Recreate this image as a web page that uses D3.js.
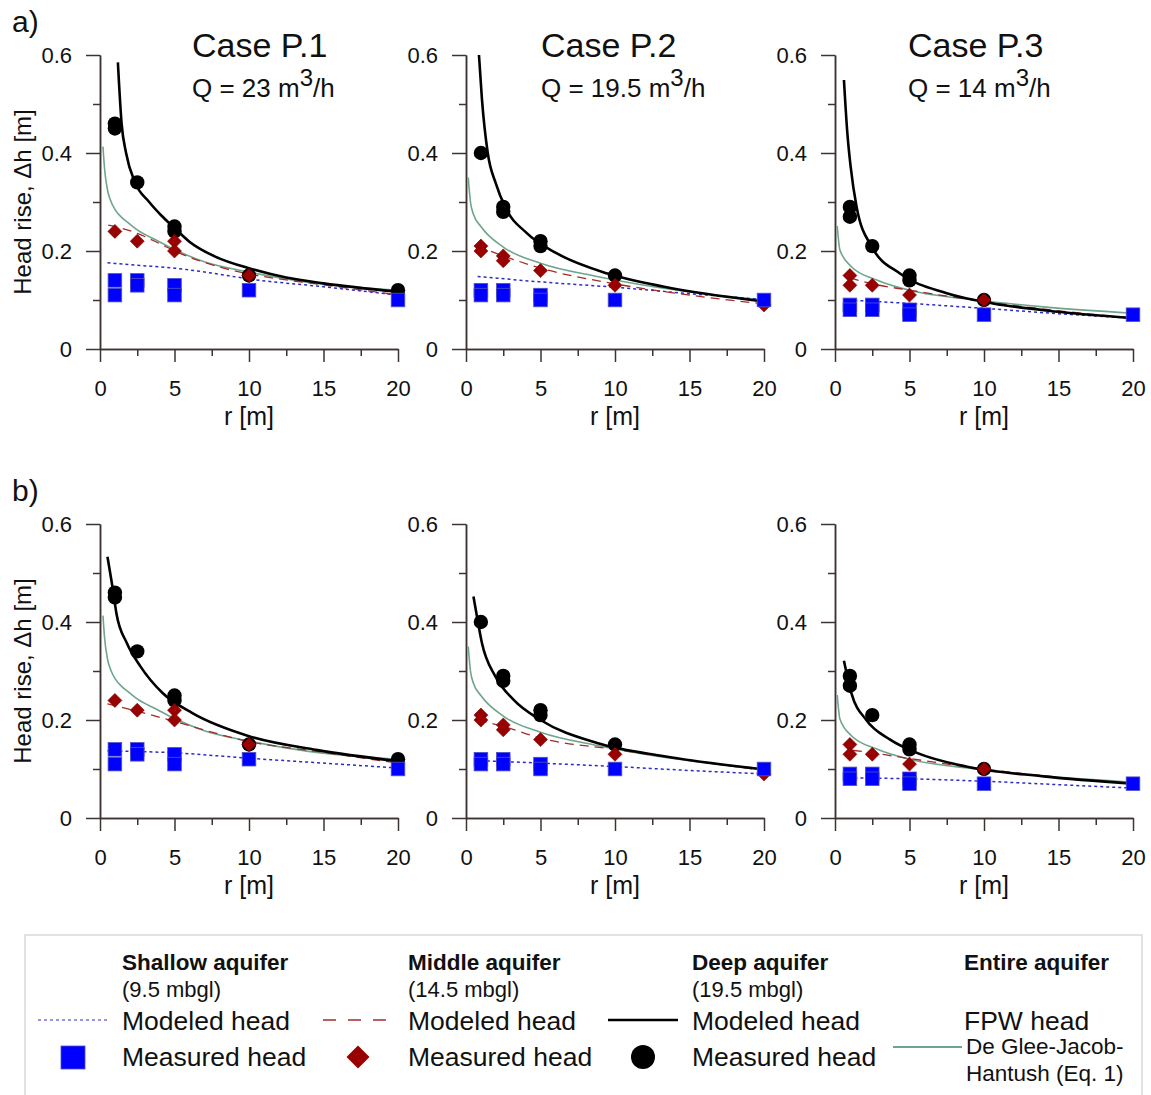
<!DOCTYPE html>
<html><head><meta charset="utf-8">
<script src="https://cdn.jsdelivr.net/npm/d3@7"></script>
<style>
body{margin:0;background:#fff;}
svg{display:block;font-family:Arial,"Liberation Sans",Helvetica,sans-serif;}
</style></head><body>
<svg id="c" width="1151" height="1095"></svg>
<script>
// ---------------- DATA ----------------
const cases = ["Case P.1", "Case P.2", "Case P.3"];
const flows = ["23", "19.5", "14"];
const rowLabels = ["a)", "b)"];
const xTicks = [0, 5, 10, 15, 20];
const xMinor = [2.5, 7.5, 12.5, 17.5];
const yTicks = [0, 0.2, 0.4, 0.6];
const yMinor = [0.1, 0.3, 0.5];

// measured heads [r (m), head rise (m)] per case
const shallowMeasured = [
  [[1,0.14],[1,0.11],[2.5,0.14],[2.5,0.13],[5,0.13],[5,0.11],[10,0.12],[20,0.10]],
  [[1,0.12],[1,0.11],[2.5,0.12],[2.5,0.11],[5,0.11],[5,0.10],[10,0.10],[20,0.10]],
  [[1,0.09],[1,0.08],[2.5,0.09],[2.5,0.08],[5,0.08],[5,0.07],[10,0.07],[20,0.07]]
];
const middleMeasured = [
  [[1,0.24],[2.5,0.22],[5,0.22],[5,0.20],[10,0.15]],
  [[1,0.21],[1,0.20],[2.5,0.19],[2.5,0.18],[5,0.16],[10,0.13],[20,0.09]],
  [[1,0.15],[1,0.13],[2.5,0.13],[5,0.11],[10,0.10]]
];
const deepMeasured = [
  [[1,0.46],[1,0.45],[2.5,0.34],[5,0.25],[5,0.24],[10,0.15],[20,0.12]],
  [[1,0.40],[2.5,0.29],[2.5,0.28],[5,0.22],[5,0.21],[10,0.15]],
  [[1,0.29],[1,0.27],[2.5,0.21],[5,0.15],[5,0.14],[10,0.10]]
];

// FPW head, De Glee-Jacob-Hantush (same in both rows)
const fpwModeled = [
  [[0.2,0.413],[0.3,0.37],[0.5,0.325],[0.75,0.3],[1,0.285],[1.5,0.267],[2,0.255],[2.5,0.243],[3.8,0.222],[5,0.203],[7,0.178],[10,0.157],[14,0.136],[20,0.12]],
  [[0.15,0.35],[0.3,0.30],[0.5,0.275],[1,0.25],[2.5,0.208],[5,0.175],[8.8,0.148],[12.6,0.127],[20,0.10]],
  [[0.15,0.251],[0.33,0.202],[1.1,0.168],[2.8,0.141],[5,0.12],[9.5,0.10],[14,0.086],[20,0.073]]
];

// row a) modeled heads
const deepModeledA = [
  [[1.2,0.585],[1.45,0.46],[1.75,0.40],[2.35,0.34],[3.3,0.30],[4.1,0.273],[5,0.247],[6,0.219],[8,0.185],[10,0.165],[12.5,0.146],[15,0.134],[20,0.117]],
  [[0.87,0.60],[1.07,0.51],[1.46,0.40],[2,0.338],[2.64,0.289],[4.1,0.236],[6.1,0.195],[9.5,0.154],[13.3,0.127],[20,0.097]],
  [[0.6,0.549],[0.83,0.44],[1.05,0.372],[1.45,0.29],[2.46,0.209],[4.36,0.154],[7.5,0.114],[10.6,0.093],[15,0.076],[20,0.063]]
];
const middleModeledA = [
  [[0.55,0.253],[1,0.25],[2.5,0.236],[4,0.215],[5,0.2],[7.5,0.172],[10,0.153],[12.5,0.141],[16,0.127],[20,0.11]],
  [[0.74,0.21],[2.5,0.19],[5,0.165],[10,0.133],[15,0.11],[20,0.092]],
  [[1,0.145],[2.5,0.133],[5,0.12],[10,0.097],[15,0.078],[20,0.063]]
];
const shallowModeledA = [
  [[0.5,0.176],[2.5,0.171],[5,0.165],[7.5,0.155],[10,0.143],[15,0.127],[20,0.11]],
  [[0.78,0.148],[5,0.137],[10,0.126],[15,0.113],[20,0.101]],
  [[0.9,0.10],[5,0.093],[10,0.083],[15,0.072],[20,0.063]]
];

// row b) modeled heads
const deepModeledB = [
  [[0.5,0.533],[0.9,0.459],[1.1,0.418],[1.8,0.357],[2.7,0.31],[4.2,0.255],[6.2,0.214],[10,0.167],[14.5,0.139],[20,0.116]],
  [[0.5,0.452],[0.8,0.40],[1.07,0.357],[1.97,0.289],[3.2,0.241],[5,0.2],[8.8,0.153],[13.3,0.126],[20,0.099]],
  [[0.6,0.321],[1.1,0.255],[2.1,0.2],[3.7,0.16],[5.5,0.133],[8.8,0.105],[14,0.085],[20,0.07]]
];
const middleModeledB = [
  [[0.5,0.233],[2.5,0.218],[5,0.197],[10,0.156],[15,0.134],[20,0.112]],
  [[0.8,0.2],[2.5,0.187],[5,0.163],[10,0.14],[15,0.118],[20,0.097]],
  [[1.2,0.138],[2.5,0.133],[4,0.126],[10,0.1],[15,0.083],[20,0.07]]
];
const shallowModeledB = [
  [[0.5,0.137],[5,0.133],[10,0.122],[15,0.112],[20,0.102]],
  [[1,0.117],[5,0.112],[10,0.105],[15,0.097],[20,0.09]],
  [[0.9,0.082],[5,0.08],[10,0.075],[15,0.068],[20,0.061]]
];

const legendGroups = [
  {title:"Shallow aquifer", sub:"(9.5 mbgl)", line:"Modeled head", marker:"Measured head"},
  {title:"Middle aquifer", sub:"(14.5 mbgl)", line:"Modeled head", marker:"Measured head"},
  {title:"Deep aquifer", sub:"(19.5 mbgl)", line:"Modeled head", marker:"Measured head"},
  {title:"Entire aquifer", sub:"", line:"FPW head", marker:""}
];
const fpwNote = ["De Glee-Jacob-", "Hantush (Eq. 1)"];

// ---------------- LAYOUT / STYLE ----------------
const svg = d3.select("#c");
const panelX = [100, 466, 835];
const panelW = 298;
const rowY = [349, 818];
const panelH = 294;
const axisColor = "#3d3333";
const styles = {
  fpw:{stroke:"#6fa58c", width:1.6, dash:null},
  shallow:{stroke:"#2b2bc8", width:1.5, dash:"3,3"},
  middle:{stroke:"#a52a2a", width:1.3, dash:"9,6"},
  deep:{stroke:"#000", width:2.6, dash:null}
};

function drawLine(g, data, x, y, st){
  const line = d3.line().x(d=>x(d[0])).y(d=>y(d[1])).curve(d3.curveMonotoneX);
  g.append("path").attr("d", line(data)).attr("fill","none")
    .attr("stroke", st.stroke).attr("stroke-width", st.width)
    .attr("stroke-dasharray", st.dash);
}

rowLabels.forEach((lab, i) => {
  svg.append("text").attr("x", 12).attr("y", rowY[i] - 317).text(lab)
    .attr("font-size", 30).attr("fill", "#111");

  cases.forEach((cs, j) => {
    const x = d3.scaleLinear().domain([0,20]).range([panelX[j], panelX[j]+panelW]);
    const y = d3.scaleLinear().domain([0,0.6]).range([rowY[i], rowY[i]-panelH]);
    const g = svg.append("g");

    const styleAxis = sel => {
      sel.selectAll("path,line").attr("stroke", axisColor).attr("stroke-width", 1.5);
      sel.selectAll("text").attr("font-size", 22).attr("fill", "#111")
        .attr("font-family", 'Arial,"Liberation Sans",sans-serif');
    };
    g.append("g").attr("transform", `translate(${panelX[j]},0)`)
      .call(d3.axisLeft(y).tickValues(yMinor).tickSize(7).tickSizeOuter(0).tickFormat(""))
      .call(styleAxis);
    g.append("g").attr("transform", `translate(${panelX[j]},0)`)
      .call(d3.axisLeft(y).tickValues(yTicks).tickSize(14).tickSizeOuter(0).tickPadding(14)
        .tickFormat(d => d === 0 ? "0" : d3.format(".1f")(d)))
      .call(styleAxis);
    g.append("g").attr("transform", `translate(0,${rowY[i]})`)
      .call(d3.axisBottom(x).tickValues(xMinor).tickSize(7).tickSizeOuter(0).tickFormat(""))
      .call(styleAxis);
    g.append("g").attr("transform", `translate(0,${rowY[i]})`)
      .call(d3.axisBottom(x).tickValues(xTicks).tickSize(13).tickSizeOuter(0).tickPadding(18)
        .tickFormat(d3.format("d")))
      .call(styleAxis);
    g.selectAll(".domain").attr("fill","none");

    g.append("text").attr("x", x(10)).attr("y", rowY[i] + 76).attr("text-anchor","middle")
      .attr("font-size", 25).attr("fill","#111").text("r [m]");
    if (j === 0) {
      g.append("text")
        .attr("transform", `translate(31,${rowY[i]-panelH/2}) rotate(-90)`)
        .attr("text-anchor","middle").attr("font-size", 24).attr("fill","#111")
        .text("Head rise,  Δh [m]");
    }

    if (i === 0) {
      const tx = panelX[j] + 92 - (j===1 ? 17 : 0) - (j===2 ? 19 : 0);
      g.append("text").attr("x", tx).attr("y", 57).attr("font-size", 34).attr("fill","#111").text(cs);
      const q = g.append("text").attr("x", tx).attr("y", 97).attr("font-size", 26).attr("fill","#111");
      q.append("tspan").text(`Q = ${flows[j]} m`);
      q.append("tspan").attr("dy", -11).attr("font-size", 24).text("3");
      q.append("tspan").attr("dy", 11).text("/h");
    }

    const deepM = i === 0 ? deepModeledA : deepModeledB;
    const midM = i === 0 ? middleModeledA : middleModeledB;
    const shM = i === 0 ? shallowModeledA : shallowModeledB;
    drawLine(g, fpwModeled[j], x, y, styles.fpw);
    drawLine(g, shM[j], x, y, styles.shallow);
    drawLine(g, midM[j], x, y, styles.middle);
    drawLine(g, deepM[j], x, y, styles.deep);

    g.selectAll(".circ").data(deepMeasured[j]).enter().append("circle")
      .attr("cx", d=>x(d[0])).attr("cy", d=>y(d[1])).attr("r", 7.2).attr("fill","#000");
    g.selectAll(".dia").data(middleMeasured[j]).enter().append("path")
      .attr("d", d => { const cx=x(d[0]), cy=y(d[1]), s=7; return `M${cx},${cy-s}L${cx+s},${cy}L${cx},${cy+s}L${cx-s},${cy}Z`; })
      .attr("fill","#990000").attr("stroke","#7a0000").attr("stroke-width",0.6);
    g.selectAll(".sq").data(shallowMeasured[j]).enter().append("rect")
      .attr("x", d=>x(d[0])-6.8).attr("y", d=>y(d[1])-6.8).attr("width",13.6).attr("height",13.6)
      .attr("fill","#0000ff").attr("stroke","#5252c8").attr("stroke-width",0.8);
  });
});

// ---------------- LEGEND ----------------
const lg = svg.append("g");
lg.append("rect").attr("x", 25).attr("y", 935).attr("width", 1117).attr("height", 180)
  .attr("fill","#fff").attr("stroke","#d3dada").attr("stroke-width",1.5);
const colX = [122, 408, 692, 964];
legendGroups.forEach((gr, k) => {
  lg.append("text").attr("x", colX[k]).attr("y", 970).attr("font-size", 22.5).attr("font-weight","bold")
    .attr("fill","#111").text(gr.title);
  if (gr.sub) lg.append("text").attr("x", colX[k]).attr("y", 997).attr("font-size", 22).attr("fill","#111").text(gr.sub);
  lg.append("text").attr("x", colX[k]).attr("y", 1030).attr("font-size", 26.5).attr("fill","#111").text(gr.line);
  if (gr.marker) lg.append("text").attr("x", colX[k]).attr("y", 1066).attr("font-size", 26.5).attr("fill","#111").text(gr.marker);
});
lg.append("line").attr("x1",38).attr("x2",108).attr("y1",1020).attr("y2",1020)
  .attr("stroke",styles.shallow.stroke).attr("stroke-width",1.2).attr("stroke-dasharray","3,3");
lg.append("rect").attr("x",61).attr("y",1046).attr("width",24).attr("height",23)
  .attr("fill","#0000ff").attr("stroke","#5252c8").attr("stroke-width",0.8);
lg.append("line").attr("x1",323).attr("x2",392).attr("y1",1020).attr("y2",1020)
  .attr("stroke",styles.middle.stroke).attr("stroke-width",1.3).attr("stroke-dasharray","13,12");
lg.append("path").attr("d","M358,1045.5L369.5,1057L358,1068.5L346.5,1057Z").attr("fill","#990000");
lg.append("line").attr("x1",608).attr("x2",678).attr("y1",1020).attr("y2",1020)
  .attr("stroke","#000").attr("stroke-width",2.6);
lg.append("circle").attr("cx",643).attr("cy",1057).attr("r",12).attr("fill","#000");
lg.append("line").attr("x1",893).attr("x2",962).attr("y1",1047).attr("y2",1047)
  .attr("stroke",styles.fpw.stroke).attr("stroke-width",1.8);
fpwNote.forEach((t, k) => {
  lg.append("text").attr("x", 966).attr("y", 1054 + k*27).attr("font-size", 22.5).attr("fill","#111").text(t);
});
</script>
</body></html>
